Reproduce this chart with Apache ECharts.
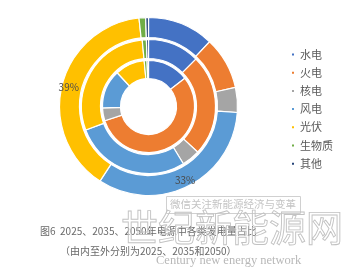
<!DOCTYPE html>
<html>
<head>
<meta charset="utf-8">
<script src="https://cdn.jsdelivr.net/npm/echarts@6/dist/echarts.min.js"></script>
<style>html,body{margin:0;padding:0;background:#fff}#c{width:350px;height:271px}</style>
</head>
<body>
<div id="c"></div>
<script>
const categories = ['水电', '火电', '核电', '风电', '光伏', '生物质', '其他'];
const data2025 = [14.5, 55.5, 4.5, 13.6, 10.4, 1.0, 0.5];
const data2035 = [12.5, 24.4, 4.4, 28.0, 29.2, 1.0, 0.5];
const data2050 = [12.0, 9.5, 4.5, 33.0, 39.0, 1.2, 0.5];
const labelled2050 = ['风电', '光伏'];
const colors = ['#4472C4', '#ED7D31', '#A5A5A5', '#5B9BD5', '#FFC000', '#70AD47', '#264478'];
const captionLine1 = '图6  2025、2035、2050年电源中各类发电量占比';
const captionLine2 = '（由内至外分别为2025、2035和2050）';

const CJK = '"Noto Sans CJK SC", "Noto Sans", sans-serif';
const chart = echarts.init(document.getElementById('c'), null, {renderer: 'canvas'});

function ring(name, values, radius, labelled) {
  return {
    type: 'pie',
    name: name,
    center: [148.5, 106.5],
    radius: radius,
    startAngle: 90,
    clockwise: true,
    silent: true,
    avoidLabelOverlap: false,
    itemStyle: {borderColor: '#fff', borderWidth: 1.2},
    label: {show: false},
    labelLine: {show: false},
    emphasis: {disabled: true},
    data: categories.map((c, i) => ({
      name: c,
      value: values[i],
      label: labelled.indexOf(c) >= 0 ? {
        show: true, position: 'inside', color: '#4a4a4a', fontSize: 10,
        fontFamily: CJK,
        formatter: p => Math.round(p.percent) + '%'
      } : {show: false}
    }))
  };
}

chart.setOption({
  animation: false,
  backgroundColor: '#fff',
  color: colors,
  legend: {
    orient: 'vertical',
    left: 285,
    top: 44,
    icon: 'rect',
    itemWidth: 4,
    itemHeight: 4,
    itemGap: 7.2,
    selectedMode: false,
    formatter: '{t|{name}}',
    textStyle: {
      fontSize: 11, color: '#595959', fontFamily: CJK,
      rich: {t: {fontSize: 11, color: '#595959', fontFamily: CJK}}
    },
    data: categories
  },
  series: [
    ring('2025', data2025, [28, 46], []),
    ring('2035', data2035, [48, 67], []),
    ring('2050', data2050, [69, 89], labelled2050)
  ],
  graphic: [
    {type: 'rect', shape: {x: 166.5, y: 196.5, width: 134, height: 17},
     style: {fill: 'rgba(255,255,255,0.6)', stroke: '#d0d0d0', lineWidth: 1}, z: 10},
    {type: 'text', x: 170, y: 199, z: 11,
     style: {text: '微信关注新能源经济与变革', fontSize: 10.5, fontFamily: CJK, fill: '#c4c4c4'}},
    {type: 'text', x: 40, y: 226, z: 12,
     style: {text: captionLine1, fontSize: 10, fontFamily: CJK, fill: '#6a6a6a'}},
    {type: 'text', x: 60, y: 246, z: 12,
     style: {text: captionLine2, fontSize: 10, fontFamily: CJK, fill: '#6a6a6a'}},
    {type: 'text', x: 121, y: 209, z: 13,
     style: {text: '世纪新能源网', fontSize: 37, fontFamily: CJK, fill: 'rgba(255,255,255,0)', stroke: '#c2c2c2', lineWidth: 0.9}},
    {type: 'text', x: 156, y: 254, z: 13,
     style: {text: 'Century new energy network', fontSize: 12.5, fontFamily: '"Liberation Serif", "DejaVu Serif", serif', fill: '#b8b8b8'}}
  ]
});
</script>
</body>
</html>
